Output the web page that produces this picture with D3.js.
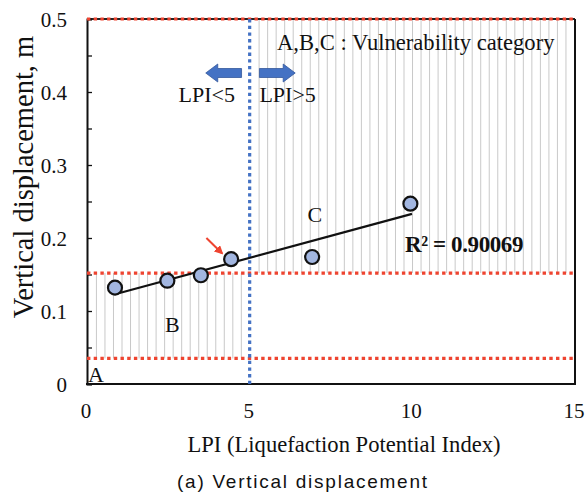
<!DOCTYPE html>
<html>
<head>
<meta charset="utf-8">
<script src="https://cdn.jsdelivr.net/npm/d3@7"></script>
<style>
  html, body { margin: 0; padding: 0; background: #fff; }
  svg { display: block; }
</style>
</head>
<body>
<svg id="chart" width="587" height="503"></svg>
<script>
// Observed sites: LPI versus vertical displacement (m)
const lpi = [0.86, 2.47, 3.50, 4.43, 6.92, 9.94];
const displacement = [0.132, 0.1415, 0.149, 0.171, 0.174, 0.247];

// Axis ticks
const xTickValues = [0, 5, 10, 15];
const yTickValues = [0, 0.1, 0.2, 0.3, 0.4, 0.5];
const yMinorTicks = [0, 0.05, 0.1, 0.15, 0.2, 0.25, 0.3, 0.35, 0.4, 0.45, 0.5];

// Category limits
const lpiThreshold = 5;
const categoryLimits = [0.035, 0.152, 0.5];   // A | B | C boundaries (m)
const rSquaredLabel = "R\u00B2 = 0.90069";

const serif = "'Liberation Serif', 'Times New Roman', serif";
const svg = d3.select("#chart");

const x = d3.scaleLinear().domain([0, 15]).range([87, 575]);
const y = d3.scaleLinear().domain([0, 0.5]).range([384, 19]);

// Hatched zones (vertical grey lines)
const hatchZones = [
  { x0: 0, x1: lpiThreshold, y0: categoryLimits[0], y1: categoryLimits[1] },
  { x0: lpiThreshold, x1: 15, y0: categoryLimits[1], y1: categoryLimits[2] }
];
const hatchStep = 0.262;
const hatch = svg.append("g");
hatchZones.forEach(z => {
  const xs = d3.range(z.x0 + 0.29, z.x1 - 0.05, hatchStep);
  hatch.selectAll(null).data(xs).enter().append("line")
    .attr("x1", d => x(d)).attr("x2", d => x(d))
    .attr("y1", y(z.y1)).attr("y2", y(z.y0))
    .attr("stroke", "#c9c9c9").attr("stroke-width", 1);
});

// Frame: top and right border
svg.append("line").attr("x1", x(0)).attr("x2", x(15)).attr("y1", y(0.5)).attr("y2", y(0.5))
  .attr("stroke", "#222").attr("stroke-width", 2);
svg.append("line").attr("x1", x(15)).attr("x2", x(15)).attr("y1", y(0.5)).attr("y2", y(0))
  .attr("stroke", "#111").attr("stroke-width", 2);

// Axes
const yAxis = d3.axisLeft(y).tickValues(yMinorTicks).tickSize(-5).tickFormat("");
const gy = svg.append("g").attr("transform", `translate(${x(0)},0)`).call(yAxis);
gy.select(".domain").attr("stroke", "#111").attr("stroke-width", 2);
gy.selectAll(".tick line").attr("stroke", "#111").attr("stroke-width", 1.3);

svg.append("line").attr("x1", x(0) - 1).attr("x2", x(15) + 1).attr("y1", y(0)).attr("y2", y(0))
  .attr("stroke", "#111").attr("stroke-width", 2);

svg.append("g").selectAll("text").data(yTickValues).enter().append("text")
  .attr("x", 67).attr("y", d => y(d)).attr("dy", "0.36em")
  .attr("text-anchor", "end")
  .attr("font-family", serif).attr("font-size", 21).attr("fill", "#111")
  .text(d => d === 0 ? "0" : d3.format(".1f")(d));

svg.append("g").selectAll("text").data(xTickValues).enter().append("text")
  .attr("x", d => x(d) - 1).attr("y", 418)
  .attr("text-anchor", "middle")
  .attr("font-family", serif).attr("font-size", 21).attr("fill", "#111")
  .text(d => d);

// Category boundaries (red dotted)
svg.append("g").selectAll("line").data(categoryLimits).enter().append("line")
  .attr("x1", x(0)).attr("x2", x(15))
  .attr("y1", d => y(d)).attr("y2", d => y(d))
  .attr("stroke", "#ee4430").attr("stroke-width", 3.2)
  .attr("stroke-dasharray", "3.4,3.3");

// LPI = 5 threshold (blue dotted)
svg.append("line")
  .attr("x1", x(lpiThreshold)).attr("x2", x(lpiThreshold))
  .attr("y1", y(0.5)).attr("y2", y(0))
  .attr("stroke", "#4472c4").attr("stroke-width", 3.2)
  .attr("stroke-dasharray", "3.4,3.3");

// Least-squares trend line
const mx = d3.mean(lpi), my = d3.mean(displacement);
const sxy = d3.sum(lpi, (v, i) => (v - mx) * (displacement[i] - my));
const sxx = d3.sum(lpi, v => (v - mx) * (v - mx));
const slope = sxy / sxx, intercept = my - slope * mx;
const [xMin, xMax] = d3.extent(lpi);
const trend = [xMin, xMax + 0.05].map(v => [v, intercept + slope * v]);
svg.append("path")
  .attr("d", d3.line().x(d => x(d[0])).y(d => y(d[1]))(trend))
  .attr("stroke", "#111").attr("stroke-width", 2.2).attr("fill", "none");

// Observations
svg.append("g").selectAll("circle").data(lpi).enter().append("circle")
  .attr("cx", d => x(d)).attr("cy", (d, i) => y(displacement[i]))
  .attr("r", 7)
  .attr("fill", "#a2b6e0").attr("stroke", "#111").attr("stroke-width", 2.2);

// Highlight arrow (red)
const defs = svg.append("defs");
defs.append("marker").attr("id", "redhead")
  .attr("viewBox", "0 0 10 10").attr("refX", 8).attr("refY", 5)
  .attr("markerWidth", 4.5).attr("markerHeight", 4.5).attr("orient", "auto")
  .append("path").attr("d", "M0,0 L10,5 L0,10 Z").attr("fill", "#ee4430");
svg.append("line")
  .attr("x1", x(3.67)).attr("y1", y(0.2)).attr("x2", x(4.15)).attr("y2", y(0.179))
  .attr("stroke", "#ee4430").attr("stroke-width", 2)
  .attr("marker-end", "url(#redhead)");

// Direction arrows (blue block arrows)
function blockArrow(xTail, xTip, yc) {
  const dir = Math.sign(xTip - xTail);
  const headLen = 12, shaft = 4.5, head = 9;
  const xNeck = xTip - dir * headLen;
  const pts = [
    [xTail, yc - shaft], [xNeck, yc - shaft], [xNeck, yc - head], [xTip, yc],
    [xNeck, yc + head], [xNeck, yc + shaft], [xTail, yc + shaft]
  ];
  svg.append("path").attr("d", "M" + pts.map(p => p.join(",")).join("L") + "Z")
    .attr("fill", "#4472c4").attr("stroke", "#33589c").attr("stroke-width", 0.8);
}
blockArrow(x(4.75), x(3.65), 73);
blockArrow(x(5.3), x(6.4), 73);

svg.append("text").attr("x", x(4.55)).attr("y", 102).attr("text-anchor", "end")
  .attr("font-family", serif).attr("font-size", 22).attr("fill", "#111").text("LPI<5");
svg.append("text").attr("x", x(5.3)).attr("y", 102)
  .attr("font-family", serif).attr("font-size", 22).attr("fill", "#111").text("LPI>5");

// Annotations
svg.append("text").attr("x", 277).attr("y", 50)
  .attr("font-family", serif).attr("font-size", 22.6).attr("fill", "#111")
  .text("A,B,C : Vulnerability category");
svg.append("text").attr("x", x(0.03)).attr("y", 382)
  .attr("font-family", serif).attr("font-size", 22).attr("fill", "#111").text("A");
svg.append("text").attr("x", x(2.4)).attr("y", 332)
  .attr("font-family", serif).attr("font-size", 22).attr("fill", "#111").text("B");
svg.append("text").attr("x", x(6.78)).attr("y", 222)
  .attr("font-family", serif).attr("font-size", 22).attr("fill", "#111").text("C");
svg.append("text").attr("x", 405).attr("y", 252)
  .attr("font-family", serif).attr("font-size", 23).attr("font-weight", "bold")
  .attr("letter-spacing", -0.4).attr("fill", "#111").text(rSquaredLabel);

// Axis titles
svg.append("text").attr("x", 344).attr("y", 452).attr("text-anchor", "middle")
  .attr("font-family", serif).attr("font-size", 22.6).attr("fill", "#111")
  .text("LPI (Liquefaction Potential Index)");
svg.append("text").attr("transform", "translate(33,177) rotate(-90)")
  .attr("text-anchor", "middle")
  .attr("font-family", serif).attr("font-size", 28.5).attr("fill", "#111")
  .text("Vertical displacement, m");

// Caption
svg.append("text").attr("x", 177).attr("y", 488)
  .attr("font-family", "'Liberation Sans', Arial, sans-serif").attr("font-size", 19)
  .attr("fill", "#111").attr("textLength", 250).attr("lengthAdjust", "spacing")
  .text("(a) Vertical displacement");
</script>
</body>
</html>
